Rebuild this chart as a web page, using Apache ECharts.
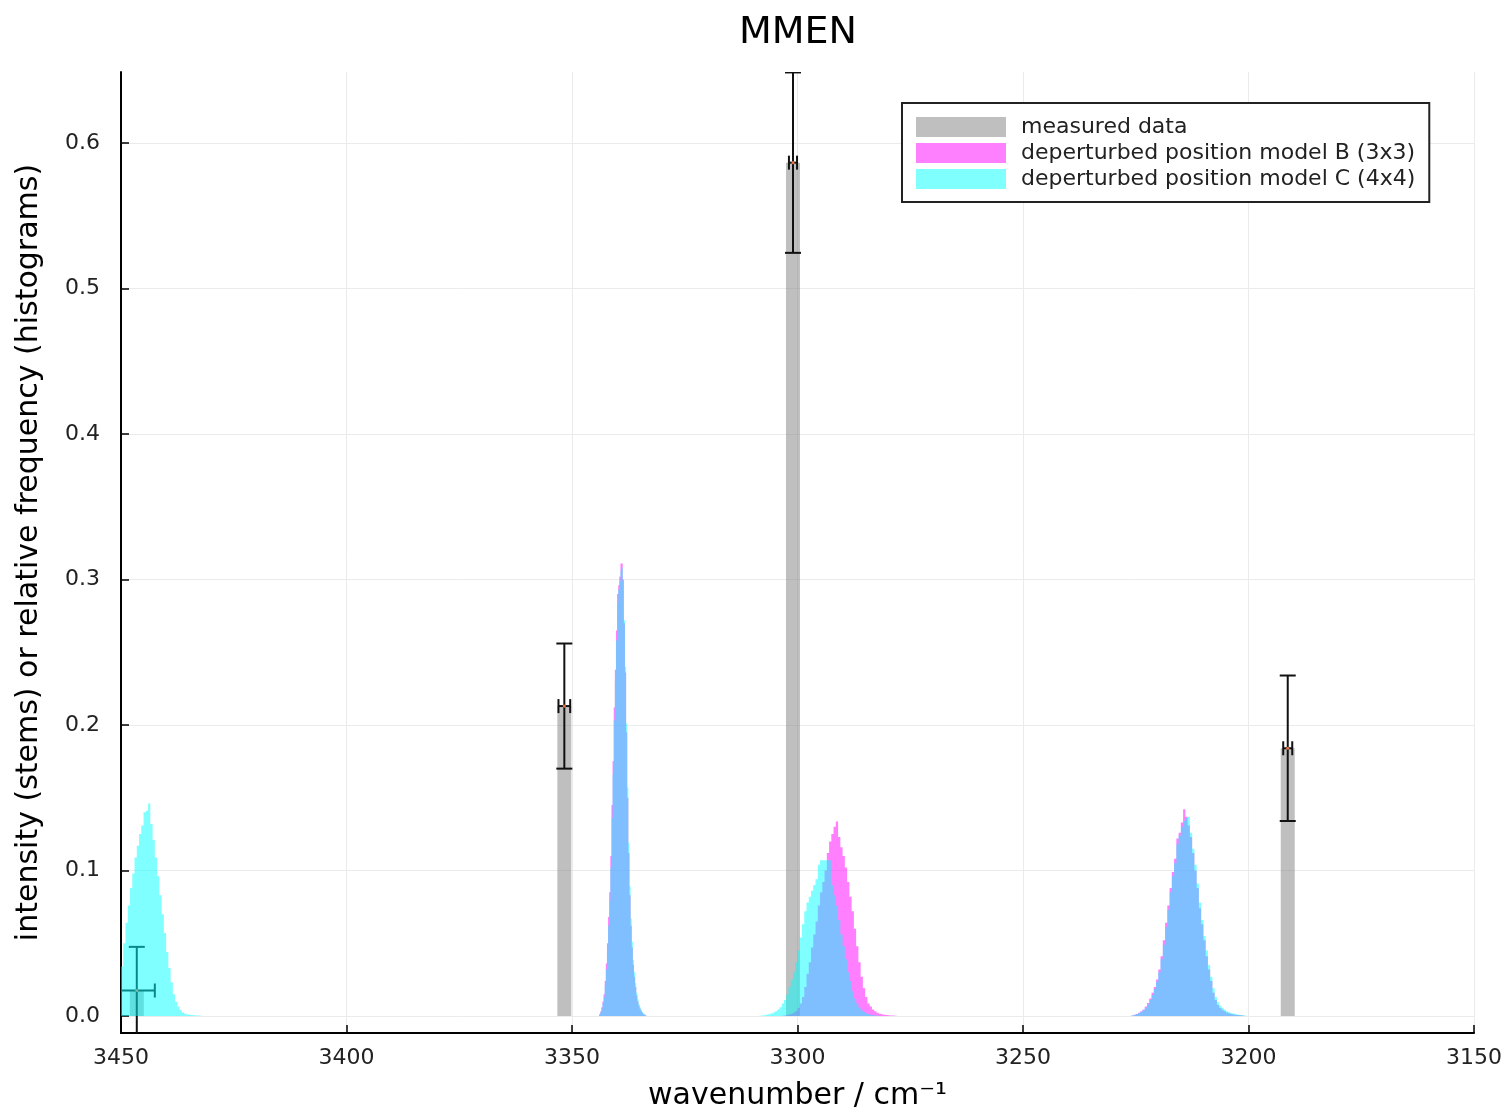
<!DOCTYPE html>
<html>
<head>
<meta charset="utf-8">
<title>MMEN</title>
<script src="https://cdn.jsdelivr.net/npm/echarts@6/dist/echarts.min.js"></script>
<style>
  html, body { margin: 0; padding: 0; background: #fff; }
  #chart { width: 1504px; height: 1114px; }
</style>
</head>
<body>
<div id="chart"></div>
<script>
// ---- measured band positions (cm^-1), intensities and uncertainties ----
const measuredPos = [3446.5, 3351.7, 3301.0, 3191.3];
const measuredInt = [0.0175, 0.213, 0.5865, 0.184];
const intensityErr = [0.030, 0.043, 0.062, 0.050];
const positionErr = [4.0, 1.3, 0.9, 1.0];

// ---- histograms of deperturbed positions (relative frequency per bin) ----
// model B (3x3): lower bin edge and bin width of each band, then bin heights (ascending wavenumber)
const bBandStarts = [3201.0, 3278.0, 3333.5];
const bBinWidths = [0.5, 0.5, 0.25];
const bBand3214 = [
  0.0004, 0.0005, 0.0007, 0.0009, 0.0011, 0.0014, 0.0018, 0.0024, 0.0032, 0.0042,
  0.0055, 0.0075, 0.0110, 0.0160, 0.0240, 0.0320, 0.0410, 0.0520, 0.0630, 0.0740,
  0.0880, 0.1000, 0.1120, 0.1230, 0.1310, 0.1370, 0.1420, 0.1330, 0.1260, 0.1220,
  0.1080, 0.0990, 0.0880, 0.0760, 0.0640, 0.0520, 0.0410, 0.0320, 0.0250, 0.0200,
  0.0160, 0.0120, 0.0090, 0.0065, 0.0045, 0.0032, 0.0022, 0.0014, 0.0008, 0.0004
];
const bBand3291 = [
  0.0002, 0.0003, 0.0004, 0.0005, 0.0007, 0.0009, 0.0012, 0.0016, 0.0022, 0.0032,
  0.0045, 0.0065, 0.0085, 0.0130, 0.0190, 0.0270, 0.0370, 0.0480, 0.0600, 0.0720,
  0.0820, 0.0920, 0.1020, 0.1100, 0.1160, 0.1230, 0.1336, 0.1300, 0.1250, 0.1200,
  0.1120, 0.1000, 0.0920, 0.0850, 0.0760, 0.0650, 0.0560, 0.0470, 0.0370, 0.0290,
  0.0200, 0.0130, 0.0085, 0.0055, 0.0035, 0.0024, 0.0016, 0.0011, 0.0007, 0.0004,
  0.0002
];
const bBand3339 = [
  0.0004, 0.0008, 0.0014, 0.0022, 0.0035, 0.0050, 0.0070, 0.0099, 0.0140, 0.0200,
  0.0270, 0.0350, 0.0470, 0.0620, 0.0830, 0.1120, 0.1500, 0.1950, 0.2360, 0.2700,
  0.3000, 0.3110, 0.3110, 0.3020, 0.2960, 0.2900, 0.2650, 0.2380, 0.2120, 0.1750,
  0.1450, 0.1100, 0.0850, 0.0680, 0.0500, 0.0360, 0.0240, 0.0150, 0.0099, 0.0060,
  0.0030, 0.0012
];

// model C (4x4)
const cBandStarts = [3200.5, 3282.0, 3333.5, 3432.0];
const cBinWidths = [0.5, 0.5, 0.25, 0.5];
const cBand3214 = [
  0.0004, 0.0005, 0.0007, 0.0009, 0.0012, 0.0015, 0.0019, 0.0025, 0.0033, 0.0043,
  0.0056, 0.0070, 0.0095, 0.0130, 0.0190, 0.0270, 0.0350, 0.0450, 0.0550, 0.0660,
  0.0780, 0.0910, 0.1040, 0.1150, 0.1260, 0.1370, 0.1360, 0.1340, 0.1300, 0.1240,
  0.1180, 0.1050, 0.0960, 0.0850, 0.0730, 0.0610, 0.0490, 0.0390, 0.0300, 0.0235,
  0.0185, 0.0145, 0.0110, 0.0080, 0.0058, 0.0040, 0.0028, 0.0019, 0.0012, 0.0007,
  0.0003
];
const cBand3294 = [
  0.0003, 0.0004, 0.0006, 0.0009, 0.0013, 0.0019, 0.0028, 0.0040, 0.0058, 0.0085,
  0.0120, 0.0170, 0.0240, 0.0300, 0.0390, 0.0480, 0.0560, 0.0660, 0.0760, 0.0830,
  0.0900, 0.1070, 0.1070, 0.1070, 0.1070, 0.1070, 0.1040, 0.0940, 0.0900, 0.0860,
  0.0820, 0.0780, 0.0720, 0.0630, 0.0540, 0.0450, 0.0370, 0.0300, 0.0250, 0.0200,
  0.0150, 0.0110, 0.0085, 0.0060, 0.0045, 0.0033, 0.0024, 0.0017, 0.0012, 0.0008,
  0.0005, 0.0003, 0.0002
];
const cBand3339 = [
  0.0006, 0.0011, 0.0018, 0.0028, 0.0042, 0.0060, 0.0082, 0.0115, 0.0160, 0.0225,
  0.0300, 0.0385, 0.0510, 0.0670, 0.0890, 0.1190, 0.1570, 0.2010, 0.2400, 0.2720,
  0.2990, 0.3080, 0.3060, 0.2990, 0.2930, 0.2840, 0.2580, 0.2300, 0.2030, 0.1660,
  0.1360, 0.1020, 0.0790, 0.0620, 0.0450, 0.0320, 0.0210, 0.0130, 0.0085, 0.0050,
  0.0025, 0.0010
];
const cBand3445 = [
  0.0002, 0.0003, 0.0004, 0.0005, 0.0006, 0.0008, 0.0011, 0.0016, 0.0024, 0.0040,
  0.0065, 0.0098, 0.0150, 0.0230, 0.0330, 0.0440, 0.0570, 0.0700, 0.0830, 0.0960,
  0.1090, 0.1210, 0.1320, 0.1460, 0.1410, 0.1400, 0.1310, 0.1250, 0.1170, 0.1090,
  0.0980, 0.0880, 0.0760, 0.0640, 0.0500, 0.0340, 0.0240, 0.0160, 0.0100, 0.0060,
  0.0030, 0.0012
];

// ---- axis ticks ----
const xTicks = [3150, 3200, 3250, 3300, 3350, 3400, 3450];
const yTicks = [0.0, 0.1, 0.2, 0.3, 0.4, 0.5, 0.6];

const bBands = [bBand3214, bBand3291, bBand3339];
const cBands = [cBand3214, cBand3294, cBand3339, cBand3445];

const measuredRows = measuredPos.map((p, i) => [p, measuredInt[i], intensityErr[i], positionErr[i]]);

const STEM_HALF = 1.55;   // half width of intensity stems, cm^-1
const CAP_V = 8;          // half length of caps on vertical error bars, px
const CAP_H = 7;          // half length of caps on horizontal error bars, px
const FONT = 'DejaVu Sans';

// one filled step polygon per band, built through the axis scales
function histogramSeries(name, starts, widths, bands, fill) {
  return {
    name,
    type: 'custom',
    clip: true,
    z: 3,
    data: starts.map((s, i) => [s, s + bands[i].length * widths[i], Math.max(...bands[i])]),
    renderItem: (params, api) => {
      const i = params.dataIndex;
      const s = starts[i];
      const w = widths[i];
      const hs = bands[i];
      const pts = [api.coord([s, 0])];
      hs.forEach((h, k) => {
        pts.push(api.coord([s + k * w, h]));
        pts.push(api.coord([s + (k + 1) * w, h]));
      });
      pts.push(api.coord([s + hs.length * w, 0]));
      return { type: 'polygon', shape: { points: pts }, style: { fill } };
    }
  };
}

const chart = echarts.init(document.getElementById('chart'), null, { renderer: 'canvas' });

chart.setOption({
  animation: false,
  backgroundColor: '#ffffff',
  textStyle: { fontFamily: FONT },
  title: {
    text: 'MMEN',
    left: 793,
    top: 9,
    textAlign: 'center',
    textStyle: { fontFamily: FONT, fontSize: 38, fontWeight: 'normal', color: '#000' }
  },
  legend: {
    orient: 'vertical',
    left: 902,
    top: 103,
    padding: [13, 14, 12, 14],
    itemWidth: 90,
    itemHeight: 20,
    itemGap: 4,
    borderColor: '#222',
    borderWidth: 2,
    backgroundColor: '#fff',
    selectedMode: false,
    textStyle: { fontFamily: FONT, fontSize: 22, lineHeight: 20, color: '#222', padding: [0, 0, 0, 10] },
    data: [
      { name: 'measured data', icon: 'rect', itemStyle: { color: '#bfbfbf' } },
      { name: 'deperturbed position model B (3x3)', icon: 'rect', itemStyle: { color: '#ff80ff' } },
      { name: 'deperturbed position model C (4x4)', icon: 'rect', itemStyle: { color: '#80ffff' } }
    ]
  },
  grid: { left: 121, right: 30, top: 72, bottom: 81, containLabel: false, outerBoundsMode: 'none' },
  xAxis: {
    type: 'value',
    inverse: true,
    min: xTicks[0],
    max: xTicks[xTicks.length - 1],
    interval: 50,
    name: 'wavenumber / cm\u207B\u00B9',
    nameLocation: 'middle',
    nameGap: 48,
    nameTextStyle: { fontFamily: FONT, fontSize: 30, color: '#000' },
    axisLine: { onZero: false, lineStyle: { color: '#000', width: 2 } },
    axisTick: { inside: true, length: 8, lineStyle: { color: '#000', width: 1.5 } },
    axisLabel: { margin: 14, fontSize: 22, color: '#222', formatter: v => String(v) },
    splitLine: { show: true, lineStyle: { color: '#ebebeb', width: 1 } }
  },
  yAxis: {
    type: 'value',
    min: -0.0117,
    max: 0.6488,
    name: 'intensity (stems) or relative frequency (histograms)',
    nameLocation: 'middle',
    nameGap: 77,
    nameTextStyle: { fontFamily: FONT, fontSize: 30, color: '#000' },
    axisLine: { show: true, onZero: false, lineStyle: { color: '#000', width: 2 } },
    axisTick: { inside: true, length: 8, customValues: yTicks, lineStyle: { color: '#000', width: 1.5 } },
    axisLabel: { margin: 21, fontSize: 22, color: '#222', customValues: yTicks, formatter: v => v.toFixed(1) },
    splitLine: { show: true, lineStyle: { color: '#ebebeb', width: 1 } }
  },
  series: [
    {
      name: 'measured data',
      type: 'custom',
      clip: true,
      z: 1,
      data: measuredRows,
      renderItem: (params, api) => {
        const x = api.value(0), y = api.value(1);
        const a = api.coord([x + STEM_HALF, y]);
        const b = api.coord([x - STEM_HALF, 0]);
        return {
          type: 'rect',
          shape: { x: Math.min(a[0], b[0]), y: a[1], width: Math.abs(b[0] - a[0]), height: b[1] - a[1] },
          style: { fill: 'rgba(128,128,128,0.5)' }
        };
      }
    },
    {
      name: 'measured data',
      type: 'custom',
      clip: true,
      z: 2,
      data: measuredRows,
      renderItem: (params, api) => {
        const x = api.value(0), y = api.value(1), ey = api.value(2), ex = api.value(3);
        const c = api.coord([x, y]);
        const top = api.coord([x, y + ey]);
        const bot = api.coord([x, y - ey]);
        const lft = api.coord([x + ex, y]);
        const rgt = api.coord([x - ex, y]);
        const st = { stroke: '#111', lineWidth: 2 };
        const ln = (x1, y1, x2, y2) => ({ type: 'line', shape: { x1, y1, x2, y2 }, style: st });
        return {
          type: 'group',
          children: [
            ln(c[0], top[1], c[0], bot[1]),
            ln(c[0] - CAP_V, top[1], c[0] + CAP_V, top[1]),
            ln(c[0] - CAP_V, bot[1], c[0] + CAP_V, bot[1]),
            ln(lft[0], c[1], rgt[0], c[1]),
            ln(lft[0], c[1] - CAP_H, lft[0], c[1] + CAP_H),
            ln(rgt[0], c[1] - CAP_H, rgt[0], c[1] + CAP_H),
            { type: 'circle', shape: { cx: c[0], cy: c[1], r: 1.6 }, style: { fill: '#e36f47' } }
          ]
        };
      }
    },
    histogramSeries('deperturbed position model B (3x3)', bBandStarts, bBinWidths, bBands, 'rgba(255,0,255,0.5)'),
    histogramSeries('deperturbed position model C (4x4)', cBandStarts, cBinWidths, cBands, 'rgba(0,255,255,0.5)')
  ]
});
</script>
</body>
</html>
